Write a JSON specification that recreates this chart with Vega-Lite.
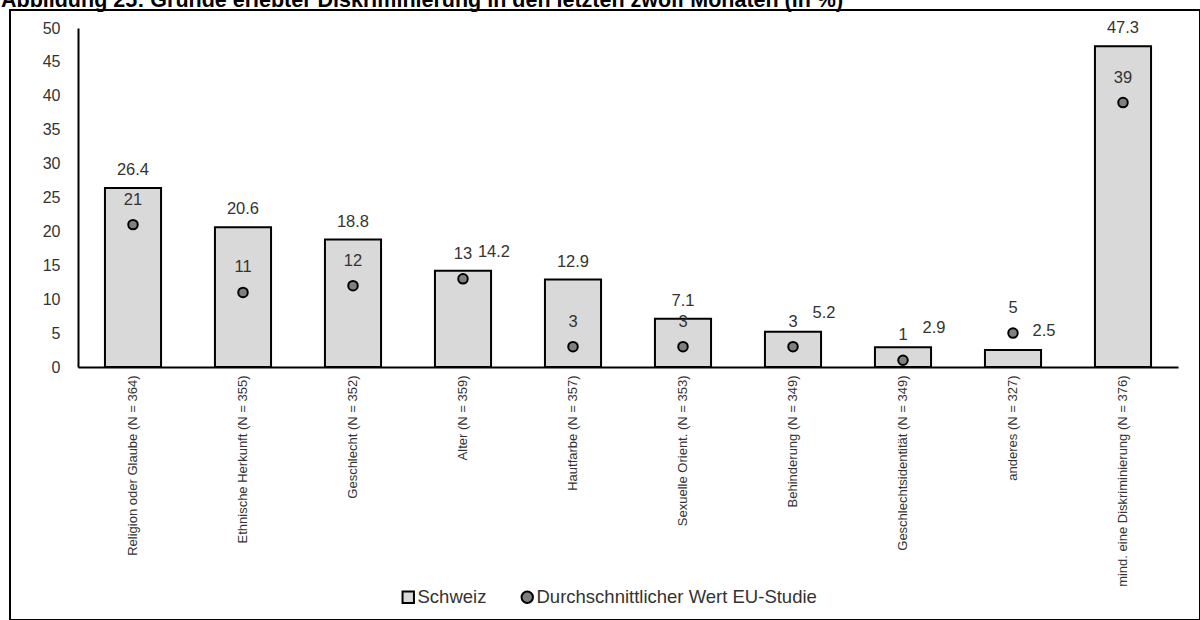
{
  "$schema": "https://vega.github.io/schema/vega-lite/v6.json",
  "width": 1190,
  "height": 610,
  "autosize": {"type": "none"},
  "padding": {"left": 10, "top": 10, "right": 0, "bottom": 0},
  "title": {
    "text": "Abbildung 25: Gründe erlebter Diskriminierung in den letzten zwölf Monaten (in %)",
    "anchor": "start",
    "frame": "group",
    "dx": -9,
    "dy": 21,
    "offset": 3,
    "baseline": "alphabetic",
    "font": "Liberation Sans",
    "fontSize": 21.5,
    "fontWeight": "bold",
    "color": "black"
  },
  "config": {
    "view": {"stroke": "black", "strokeWidth": 2},
    "font": "Liberation Sans",
    "text": {"font": "Liberation Sans"}
  },
  "data": {
    "values": [
      {"grund": "Religion oder Glaube (N = 364)", "schweiz": 26.4, "eu": 21},
      {"grund": "Ethnische Herkunft (N = 355)", "schweiz": 20.6, "eu": 11},
      {"grund": "Geschlecht (N = 352)", "schweiz": 18.8, "eu": 12},
      {"grund": "Alter (N = 359)", "schweiz": 14.2, "eu": 13},
      {"grund": "Hautfarbe (N = 357)", "schweiz": 12.9, "eu": 3},
      {"grund": "Sexuelle Orient. (N = 353)", "schweiz": 7.1, "eu": 3},
      {"grund": "Behinderung (N = 349)", "schweiz": 5.2, "eu": 3},
      {"grund": "Geschlechtsidentität (N = 349)", "schweiz": 2.9, "eu": 1},
      {"grund": "anderes (N = 327)", "schweiz": 2.5, "eu": 5},
      {"grund": "mind. eine Diskriminierung (N = 376)", "schweiz": 47.3, "eu": 39}
    ]
  },
  "encoding": {
    "x": {
      "field": "grund",
      "type": "nominal",
      "sort": null,
      "scale": {"range": [68, 1168], "paddingInner": 0.49, "paddingOuter": 0.245},
      "axis": {
        "title": null,
        "labelAngle": -90,
        "labelAlign": "right",
        "labelBaseline": "middle",
        "labelPadding": 8,
        "ticks": false,
        "domainColor": "black",
        "domainWidth": 2,
        "labelFontSize": 13,
        "labelColor": "#333333",
        "labelLimit": 400,
        "labelFont": "Liberation Sans",
        "offset": -253
      }
    },
    "y": {
      "field": "schweiz",
      "type": "quantitative",
      "scale": {"domain": [0, 50], "range": [357, 18]},
      "axis": {
        "title": null,
        "values": [0, 5, 10, 15, 20, 25, 30, 35, 40, 45, 50],
        "ticks": false,
        "grid": false,
        "domainColor": "black",
        "domainWidth": 2,
        "labelPadding": 18,
        "labelFontSize": 16,
        "labelColor": "#333333",
        "labelFont": "Liberation Sans",
        "offset": -68
      }
    }
  },
  "layer": [
    {
      "mark": {"type": "bar", "stroke": "black", "strokeWidth": 2},
      "encoding": {
        "color": {
          "datum": "Schweiz",
          "scale": {"domain": ["Schweiz", "Durchschnittlicher Wert EU-Studie"], "range": ["#d9d9d9", "#808080"]},
          "legend": {
            "title": null,
            "orient": "none",
            "legendX": 389,
            "legendY": 578,
            "direction": "horizontal",
            "labelFontSize": 18.5,
            "labelColor": "#333333",
            "labelFont": "Liberation Sans",
            "labelLimit": 500,
            "symbolSize": 130,
            "symbolStrokeColor": "black",
            "symbolStrokeWidth": 2,
            "labelOffset": 0,
            "columnPadding": 30
          }
        }
      }
    },
    {
      "mark": {"type": "point", "filled": true, "stroke": "black", "strokeWidth": 2, "size": 90, "opacity": 1},
      "encoding": {
        "y": {"field": "eu", "type": "quantitative"},
        "color": {"datum": "Durchschnittlicher Wert EU-Studie"},
        "shape": {
          "datum": "Durchschnittlicher Wert EU-Studie",
          "scale": {"domain": ["Schweiz", "Durchschnittlicher Wert EU-Studie"], "range": ["square", "circle"]}
        }
      }
    },
    {
      "transform": [{"filter": "abs(datum.schweiz - datum.eu) > 2.5"}],
      "mark": {"type": "text", "baseline": "alphabetic", "dy": -13, "fontSize": 16.5, "color": "#333333"},
      "encoding": {
        "text": {"field": "schweiz", "type": "nominal"}
      }
    },
    {
      "transform": [{"filter": "abs(datum.schweiz - datum.eu) <= 2.5"}],
      "mark": {"type": "text", "baseline": "alphabetic", "dy": -14, "dx": 31, "fontSize": 16.5, "color": "#333333"},
      "encoding": {
        "text": {"field": "schweiz", "type": "nominal"}
      }
    },
    {
      "mark": {"type": "text", "baseline": "alphabetic", "dy": -20, "fontSize": 16.5, "color": "#333333"},
      "encoding": {
        "y": {"field": "eu", "type": "quantitative"},
        "text": {"field": "eu", "type": "nominal"}
      }
    }
  ]
}
